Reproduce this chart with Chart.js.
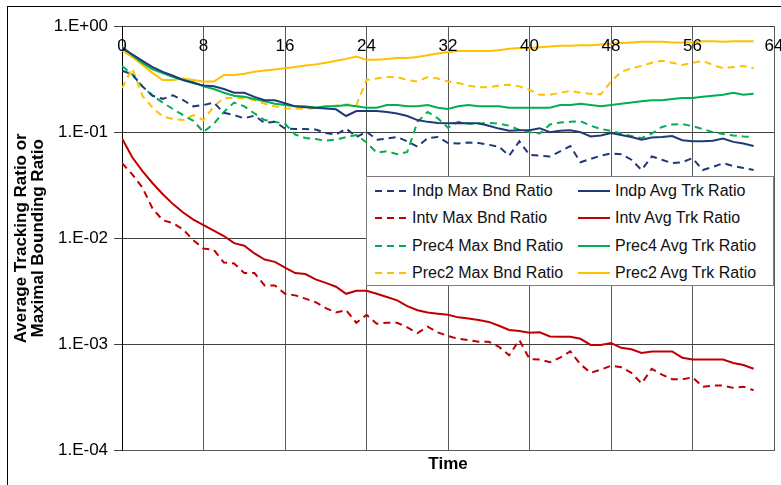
<!DOCTYPE html>
<html>
<head>
<meta charset="utf-8">
<script src="https://cdn.jsdelivr.net/npm/chart.js@4/dist/chart.umd.min.js"></script>
<style>
html,body{margin:0;padding:0;overflow:hidden;background:#fff;}
#wrap{position:relative;width:781px;height:485px;overflow:hidden;}
#c{position:absolute;left:0;top:0;}
#frame{position:absolute;left:7px;top:6px;width:800px;height:500px;border:1px solid #000;box-sizing:border-box;pointer-events:none;}
#legend{position:absolute;left:366px;top:176px;width:408px;height:110px;border:1px solid #7f7f7f;background:#fff;box-sizing:border-box;font:16px 'Liberation Sans',Arial,sans-serif;color:#111;}
.item{position:absolute;height:20px;display:flex;align-items:center;white-space:nowrap;}
.item svg{display:block;margin-right:5px;}
</style>
</head>
<body>
<div id="wrap">
<canvas id="c" width="781" height="485"></canvas>
<div id="frame"></div>
<div id="legend"></div>
</div>
<script>
// ---- data ----
const times = [0,1,2,3,4,5,6,7,8,9,10,11,12,13,14,15,16,17,18,19,20,21,22,23,24,25,26,27,28,29,30,31,32,33,34,35,36,37,38,39,40,41,42,43,44,45,46,47,48,49,50,51,52,53,54,55,56,57,58,59,60,61,62];

const indpMax = [0.38,0.35,0.27,0.22,0.206,0.222,0.20,0.175,0.18,0.19,
  0.152,0.145,0.135,0.143,0.122,0.125,0.108,0.107,0.107,0.106,
  0.098,0.095,0.108,0.09,0.101,0.085,0.087,0.09,0.082,0.073,
  0.088,0.09,0.079,0.078,0.08,0.079,0.076,0.073,0.06,0.082,
  0.061,0.06,0.059,0.066,0.074,0.052,0.056,0.06,0.063,0.062,
  0.055,0.044,0.059,0.055,0.051,0.052,0.057,0.044,0.047,0.051,
  0.048,0.046,0.044];
const indpAvg = [0.62,0.54,0.47,0.41,0.37,0.34,0.31,0.29,0.275,0.27,
  0.255,0.235,0.235,0.215,0.20,0.20,0.187,0.175,0.172,0.17,
  0.167,0.164,0.142,0.158,0.158,0.158,0.155,0.15,0.142,0.13,
  0.125,0.122,0.121,0.122,0.121,0.121,0.115,0.108,0.103,0.104,
  0.104,0.109,0.10,0.103,0.104,0.10,0.091,0.093,0.098,0.094,
  0.090,0.085,0.089,0.090,0.092,0.084,0.082,0.082,0.083,0.087,
  0.081,0.078,0.074];
const intvMax = [0.051,0.04,0.03,0.019,0.0148,0.0139,0.0121,0.0096,0.008,0.0078,
  0.0059,0.0058,0.0047,0.0047,0.0036,0.0036,0.003,0.0029,0.0027,0.0025,
  0.0022,0.0020,0.0021,0.0016,0.0019,0.00157,0.0016,0.0016,0.00145,0.00128,
  0.00147,0.0013,0.0012,0.00113,0.0011,0.00106,0.00106,0.00095,0.00079,0.0011,
  0.00073,0.00072,0.00068,0.00075,0.00086,0.00065,0.00054,0.00058,0.00063,0.00061,
  0.00054,0.00043,0.00059,0.00052,0.00047,0.00047,0.00049,0.0004,0.00041,0.00041,
  0.00039,0.0004,0.00037];
const intvAvg = [0.087,0.058,0.043,0.033,0.026,0.021,0.0175,0.015,0.0133,0.0118,
  0.0105,0.009,0.0085,0.0072,0.0063,0.006,0.0053,0.0047,0.0046,0.0041,
  0.0038,0.0035,0.003,0.0032,0.0032,0.003,0.0028,0.0026,0.0023,0.0021,
  0.002,0.00195,0.0019,0.0018,0.00176,0.0017,0.00163,0.0015,0.00137,0.00134,
  0.00129,0.0013,0.00119,0.00118,0.00118,0.00113,0.00099,0.00099,0.00103,0.00093,
  0.0009,0.00083,0.00086,0.00086,0.00086,0.00075,0.00072,0.00072,0.00072,0.00072,
  0.00067,0.00064,0.00059];
const prec4Max = [0.42,0.35,0.27,0.22,0.19,0.165,0.145,0.128,0.10,0.12,
  0.155,0.19,0.175,0.15,0.13,0.125,0.12,0.095,0.088,0.086,
  0.083,0.085,0.09,0.094,0.08,0.064,0.066,0.062,0.065,0.125,
  0.155,0.135,0.11,0.125,0.12,0.12,0.122,0.12,0.115,0.105,
  0.10,0.097,0.118,0.123,0.125,0.127,0.115,0.107,0.103,0.097,
  0.092,0.088,0.097,0.112,0.118,0.119,0.114,0.107,0.10,0.096,
  0.093,0.091,0.09];
const prec4Avg = [0.64,0.53,0.45,0.39,0.36,0.33,0.31,0.295,0.27,0.255,
  0.235,0.22,0.215,0.205,0.195,0.185,0.18,0.175,0.175,0.17,
  0.175,0.175,0.18,0.175,0.17,0.17,0.18,0.18,0.175,0.175,
  0.18,0.17,0.165,0.175,0.18,0.175,0.175,0.175,0.17,0.17,
  0.17,0.17,0.17,0.18,0.18,0.185,0.18,0.175,0.18,0.185,
  0.19,0.195,0.20,0.20,0.205,0.21,0.21,0.215,0.22,0.225,
  0.235,0.225,0.23];
const prec2Max = [0.26,0.40,0.22,0.17,0.14,0.133,0.13,0.145,0.13,0.175,
  0.21,0.21,0.21,0.20,0.185,0.175,0.168,0.167,0.166,0.168,
  0.172,0.178,0.182,0.18,0.31,0.32,0.33,0.33,0.31,0.30,
  0.33,0.32,0.30,0.29,0.275,0.265,0.265,0.275,0.28,0.27,
  0.25,0.225,0.225,0.235,0.245,0.235,0.23,0.227,0.30,0.37,
  0.40,0.42,0.45,0.47,0.45,0.43,0.45,0.47,0.43,0.40,
  0.41,0.42,0.40];
const prec2Avg = [0.59,0.51,0.43,0.36,0.31,0.31,0.32,0.31,0.30,0.30,
  0.345,0.345,0.355,0.37,0.38,0.39,0.40,0.41,0.425,0.435,
  0.45,0.47,0.49,0.515,0.48,0.48,0.49,0.50,0.50,0.51,
  0.53,0.55,0.57,0.58,0.58,0.58,0.58,0.59,0.61,0.62,
  0.62,0.63,0.64,0.65,0.65,0.66,0.66,0.67,0.68,0.69,
  0.70,0.71,0.71,0.71,0.70,0.70,0.70,0.72,0.72,0.71,
  0.72,0.72,0.72];

const xTickValues = [0,8,16,24,32,40,48,56,64];
const xTickLabels = ['0','8','16','24','32','40','48','56','64'];
const yTickValues = [0.0001,0.001,0.01,0.1,1];
const yTickLabels = ['1.E-04','1.E-03','1.E-02','1.E-01','1.E+00'];

const seriesNames = ['Indp Max Bnd Ratio','Indp Avg Trk Ratio','Intv Max Bnd Ratio','Intv Avg Trk Ratio',
  'Prec4 Max Bnd Ratio','Prec4 Avg Trk Ratio','Prec2 Max Bnd Ratio','Prec2 Avg Trk Ratio'];
const seriesValues = [indpMax, indpAvg, intvMax, intvAvg, prec4Max, prec4Avg, prec2Max, prec2Avg];
const seriesColors = ['#1F3A78','#1F3A78','#C00000','#C00000','#00B050','#00B050','#FFC000','#FFC000'];
const seriesDashed = [true,false,true,false,true,false,true,false];

// ---- chart ----
const FONT = "'Liberation Sans', Arial, sans-serif";
const DASH = [7,5];

const datasets = seriesNames.map((name, i) => ({
  label: name,
  data: times.map((t, k) => ({x: t, y: seriesValues[i][k]})),
  borderColor: seriesColors[i],
  backgroundColor: seriesColors[i],
  borderWidth: 2,
  borderDash: seriesDashed[i] ? DASH : [],
  pointRadius: 0,
  tension: 0,
  fill: false
}));

const xTopLabels = {
  id: 'xTopLabels',
  afterDatasetsDraw(chart) {
    const {ctx, chartArea, scales} = chart;
    ctx.save();
    ctx.font = '17px ' + FONT;
    ctx.fillStyle = '#000';
    ctx.textAlign = 'center';
    ctx.textBaseline = 'middle';
    xTickValues.forEach((v, i) => {
      ctx.fillText(xTickLabels[i], scales.x.getPixelForValue(v), chartArea.top + 20);
    });
    ctx.restore();
  }
};

new Chart(document.getElementById('c'), {
  type: 'line',
  data: {datasets},
  plugins: [xTopLabels],
  options: {
    responsive: false,
    animation: false,
    devicePixelRatio: 1,
    layout: {padding: {left: 9, right: 7, top: 26, bottom: 10}},
    plugins: {legend: {display: false}, tooltip: {enabled: false}, title: {display: false}},
    scales: {
      x: {
        type: 'linear', min: 0, max: 64, position: 'bottom',
        afterBuildTicks: s => { s.ticks = xTickValues.map(v => ({value: v})); },
        ticks: {display: false},
        grid: {color: '#595959', lineWidth: 1, drawTicks: false},
        border: {display: true, color: '#595959'},
        title: {display: true, text: 'Time', color: '#000',
          font: {family: FONT, size: 17, weight: 'bold', lineHeight: 1.2}, padding: {top: 4, bottom: 0}}
      },
      y: {
        type: 'logarithmic', min: 0.0001, max: 1,
        afterBuildTicks: s => { s.ticks = yTickValues.map(v => ({value: v})); },
        ticks: {
          autoSkip: false, color: '#000', padding: 6,
          font: {family: FONT, size: 17},
          callback: (v) => {
            const i = yTickValues.findIndex(t => Math.abs(Math.log10(t) - Math.log10(v)) < 1e-6);
            return i >= 0 ? yTickLabels[i] : '';
          }
        },
        grid: {color: '#404040', lineWidth: 1, drawTicks: true, tickLength: 8},
        border: {display: true, color: '#000'},
        title: {display: true, text: ['Average Tracking Ratio or', 'Maximal Bounding Ratio'], color: '#000',
          font: {family: FONT, size: 17, weight: 'bold', lineHeight: 1.05}, padding: {top: 3, bottom: 0}}
      }
    }
  }
});

// ---- HTML legend (2 columns, row-wise order) ----
const legend = document.getElementById('legend');
const rowCenters = [14, 41.3, 68.7, 95.7];
const colLefts = [8, 211];
seriesNames.forEach((name, i) => {
  const row = Math.floor(i / 2), col = i % 2;
  const el = document.createElement('div');
  el.className = 'item';
  el.style.left = colLefts[col] + 'px';
  el.style.top = (rowCenters[row] - 10) + 'px';
  const dash = seriesDashed[i] ? 'stroke-dasharray="7 5"' : '';
  el.innerHTML = '<svg width="32" height="4"><line x1="0" y1="2" x2="32" y2="2" stroke="' + seriesColors[i] +
    '" stroke-width="2" ' + dash + '/></svg><span></span>';
  el.querySelector('span').textContent = name;
  legend.appendChild(el);
});
</script>
</body>
</html>
